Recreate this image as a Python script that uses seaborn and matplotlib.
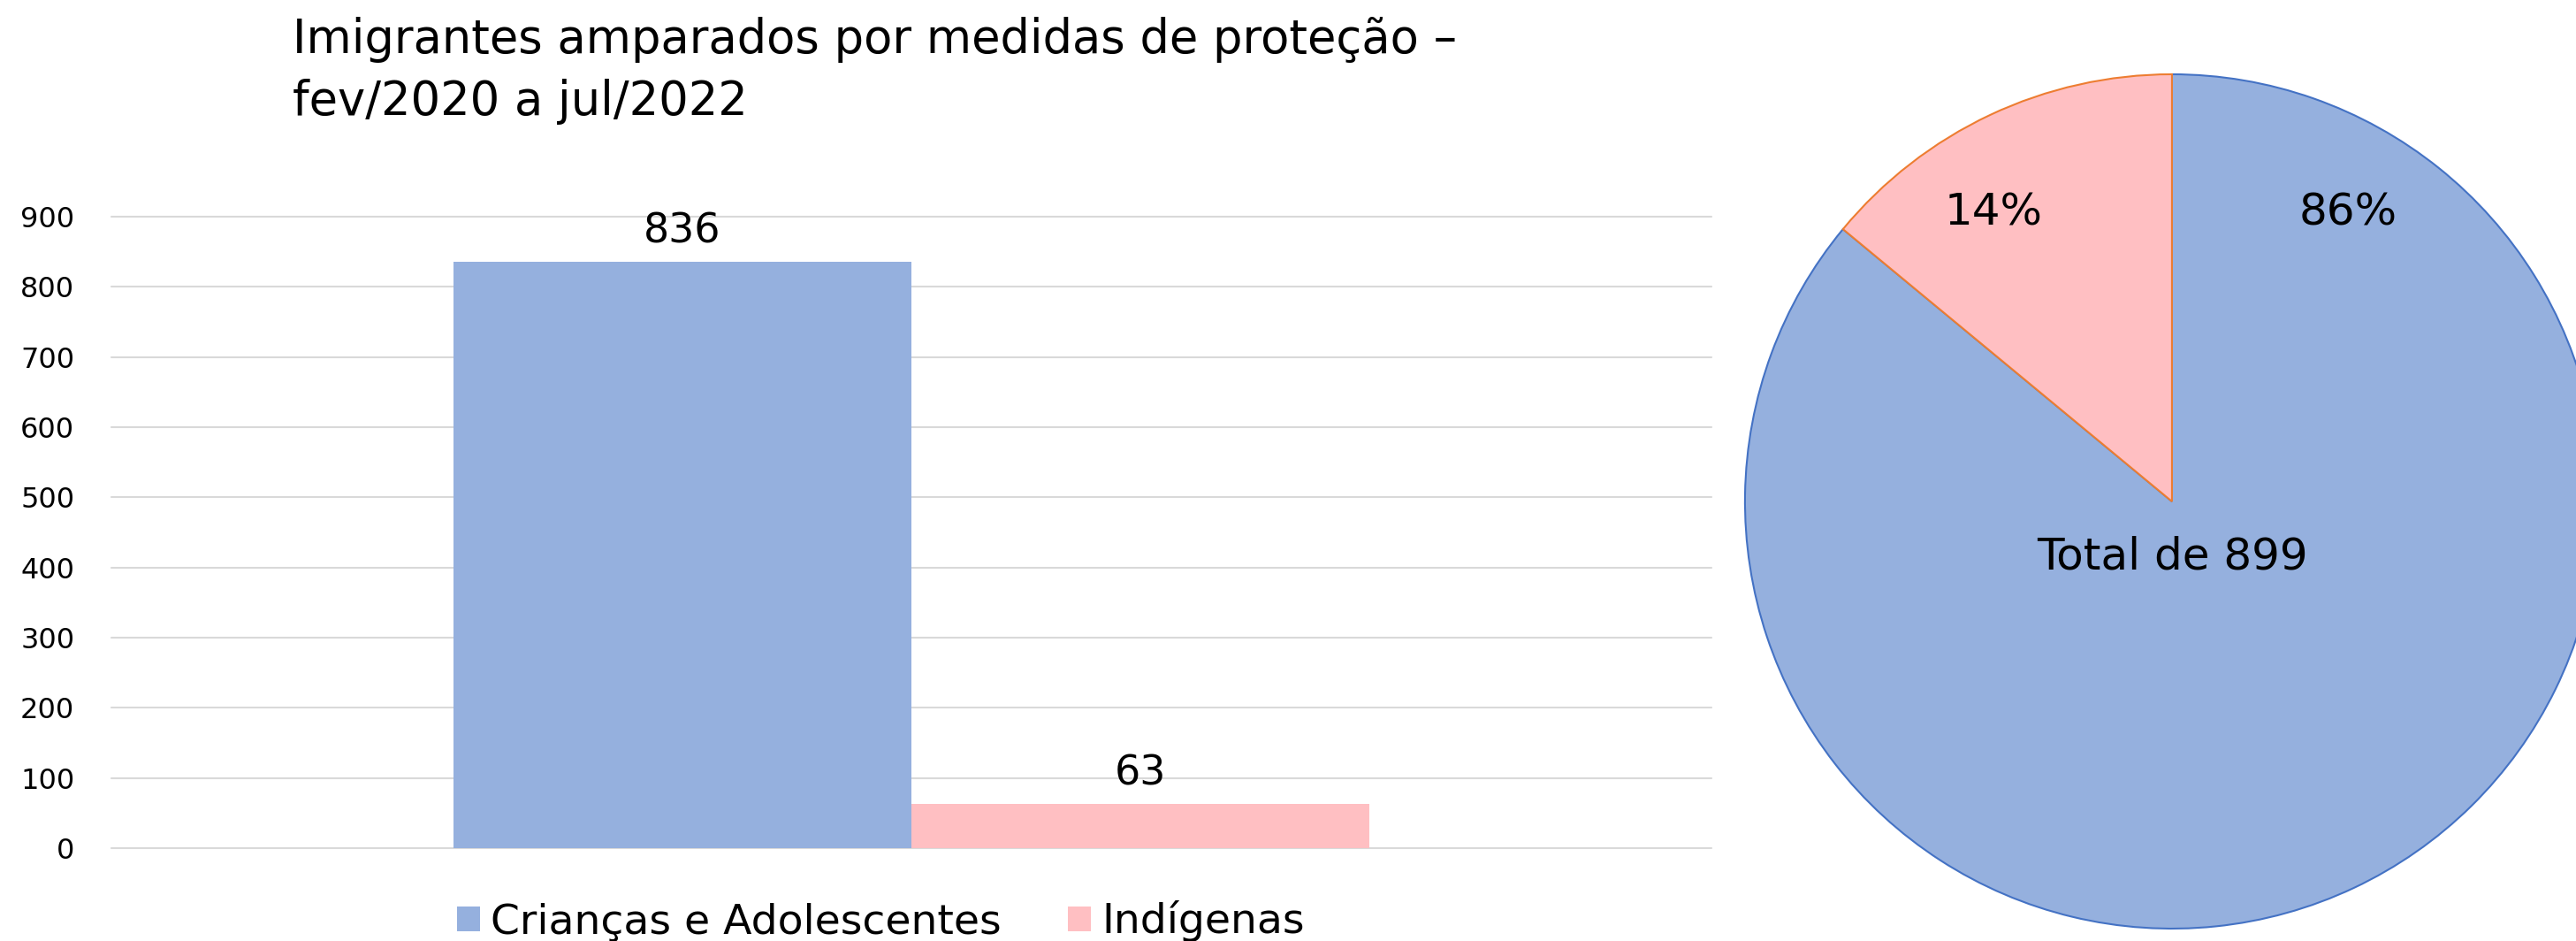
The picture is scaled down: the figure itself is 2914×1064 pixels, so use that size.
import matplotlib
matplotlib.use("Agg")
import matplotlib.pyplot as plt
import seaborn as sns
import pandas as pd

# dados
grupos = ["Crianças e Adolescentes", "Indígenas"]
valores = [836, 63]
pizza_pct = [86, 14]
yticks = list(range(0, 1000, 100))

titulo = "Imigrantes amparados por medidas de proteção –\nfev/2020 a jul/2022"

cores = ["#95B0DE", "#FFBFC2"]
bordas = ["#4472C4", "#ED7D31"]

sns.set_theme(style="white")
plt.rcParams["font.family"] = ["DejaVu Sans"]
plt.rcParams["text.color"] = "black"

df = pd.DataFrame({"cat": [""] * len(grupos), "grupo": grupos, "n": valores})

fig = plt.figure(figsize=(29.14, 10.64), dpi=100)

# barras
ax = fig.add_axes([0.0432, 0.0987, 0.6212, 0.671])
sns.barplot(data=df, x="cat", y="n", hue="grupo", palette=cores,
            width=0.572, saturation=1, linewidth=0, ax=ax)
handles, labels = ax.get_legend_handles_labels()
ax.get_legend().remove()

for cont in ax.containers:
    ax.bar_label(cont, padding=8, fontsize=33, color="black")

ax.set_xlim(-0.5, 0.5)
ax.set_ylim(0, 900)
ax.set_yticks(yticks)
ax.set_xticks([])
ax.set_xlabel("")
ax.set_ylabel("")
ax.yaxis.grid(True, color="#D9D9D9", linewidth=1.5)
for gl in ax.get_ygridlines():
    gl.set_clip_on(False)
ax.set_axisbelow(True)
sns.despine(ax=ax, left=True, bottom=True)
ax.tick_params(left=False, bottom=False, labelsize=23, pad=24, labelcolor="black")

fig.legend(handles, labels, loc="center", bbox_to_anchor=(0.342, 0.0207),
           ncol=2, frameon=False, fontsize=34, handlelength=0.55,
           handleheight=0.55, handletextpad=0.26, columnspacing=1.6,
           borderpad=0)

fig.text(331 / 2914, 0.925, titulo, fontsize=38, va="center", ha="left",
         linespacing=1.45, color="black")

# pizza
ax2 = fig.add_axes([0.6774, 0.01316, 0.3315, 0.9079])
wedges, _ = ax2.pie(pizza_pct, colors=cores, startangle=90, counterclock=False,
                    wedgeprops=dict(linewidth=1.5))
for w, b in zip(wedges, bordas):
    w.set_edgecolor(b)
ax2.set_xlim(-1, 1)
ax2.set_ylim(-1, 1)
ax2.set_aspect("equal")

ax2.text(-0.418, 0.677, f"{pizza_pct[1]}%", fontsize=36, ha="center", va="center")
ax2.text(0.412, 0.677, f"{pizza_pct[0]}%", fontsize=36, ha="center", va="center")
ax2.text(0, -0.13, f"Total de {sum(valores)}", fontsize=36, ha="center", va="center")

fig.savefig("out.png", dpi=100)
